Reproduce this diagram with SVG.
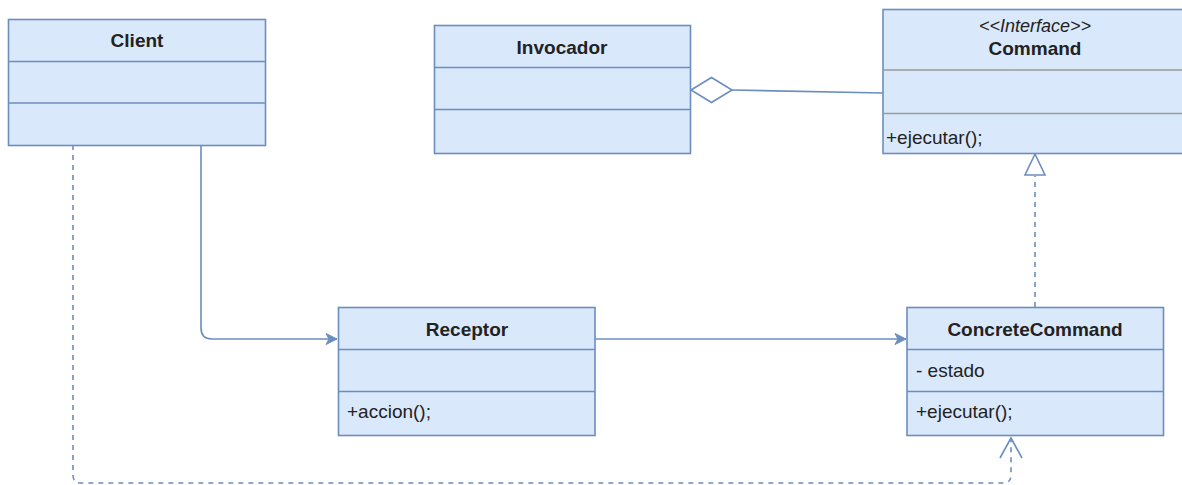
<svg xmlns="http://www.w3.org/2000/svg" width="1182" height="485" viewBox="0 0 1182 485">
<style>
.box{fill:#dae8fc;stroke:#6c8ebf;stroke-width:1.6}
.div{stroke:#6c8ebf;stroke-width:1.6;fill:none}
.hr{stroke:#9a9a9a;stroke-width:1.6;fill:none}
.t{font-family:"Liberation Sans",Arial,sans-serif;font-size:19px;fill:#222}
.title{font-weight:bold;text-anchor:middle}
.st{font-style:italic;text-anchor:middle;font-size:18px}
.ln{stroke:#6c8ebf;stroke-width:1.6;fill:none}
.dash{stroke-dasharray:5 5}
</style>
<defs>
<marker id="classic" markerUnits="userSpaceOnUse" markerWidth="14" markerHeight="14" refX="12" refY="7" orient="auto" viewBox="0 0 14 14">
<path d="M1,1.5 L12,7 L1,12.5 L4,7 Z" fill="#6c8ebf" stroke="#6c8ebf" stroke-width="1"/>
</marker>
</defs>
<g id="connectors">
<path class="ln" d="M201,145 L201,328 Q201,339 212,339 L337,339" marker-end="url(#classic)"/>
<path class="ln" d="M595,339 L906,339" marker-end="url(#classic)"/>
<path class="ln" d="M732,90 L883,93"/>
<path d="M691,90 L711.5,77.5 L732,90 L711.5,102.5 Z" fill="#ffffff" stroke="#6c8ebf" stroke-width="1.6"/>
<path class="ln dash" d="M1035,307 L1035,176"/>
<path d="M1035,154 L1045,175 L1025,175 Z" fill="#ffffff" stroke="#6c8ebf" stroke-width="1.6"/>
<path class="ln dash" d="M73,145 L73,475 Q73,483 81,483 L1003,483 Q1011,483 1011,475 L1011,440"/>
<path class="ln" d="M1000,458 L1011,438 L1022,458"/>
</g>
<g id="client">
<rect class="box" x="8.5" y="19.5" width="257" height="126"/>
<line class="div" x1="8.5" y1="61.5" x2="265.5" y2="61.5"/>
<line class="div" x1="8.5" y1="103" x2="265.5" y2="103"/>
<text class="t title" x="137" y="47">Client</text>
</g>
<g id="invocador">
<rect class="box" x="434.5" y="25.5" width="256" height="128"/>
<line class="div" x1="434.5" y1="67.5" x2="690.5" y2="67.5"/>
<line class="div" x1="434.5" y1="109.5" x2="690.5" y2="109.5"/>
<text class="t title" x="562" y="54">Invocador</text>
</g>
<g id="command">
<rect class="box" x="883" y="9.5" width="302" height="144"/>
<line class="hr" x1="883" y1="70" x2="1185" y2="70"/>
<line class="hr" x1="883" y1="113.5" x2="1185" y2="113.5"/>
<text class="t st" x="1035" y="32">&lt;&lt;Interface&gt;&gt;</text>
<text class="t title" x="1035" y="55">Command</text>
<text class="t" x="886" y="144">+ejecutar();</text>
</g>
<g id="receptor">
<rect class="box" x="338.5" y="307.5" width="256.5" height="128"/>
<line class="div" x1="338.5" y1="349.5" x2="595" y2="349.5"/>
<line class="div" x1="338.5" y1="391.5" x2="595" y2="391.5"/>
<text class="t title" x="467" y="336">Receptor</text>
<text class="t" x="347" y="418">+accion();</text>
</g>
<g id="concretecommand">
<rect class="box" x="907" y="307.5" width="256.5" height="128"/>
<line class="div" x1="907" y1="349.5" x2="1163.5" y2="349.5"/>
<line class="div" x1="907" y1="391.5" x2="1163.5" y2="391.5"/>
<text class="t title" x="1035" y="336">ConcreteCommand</text>
<text class="t" x="916" y="377">- estado</text>
<text class="t" x="916" y="418">+ejecutar();</text>
</g>
</svg>
